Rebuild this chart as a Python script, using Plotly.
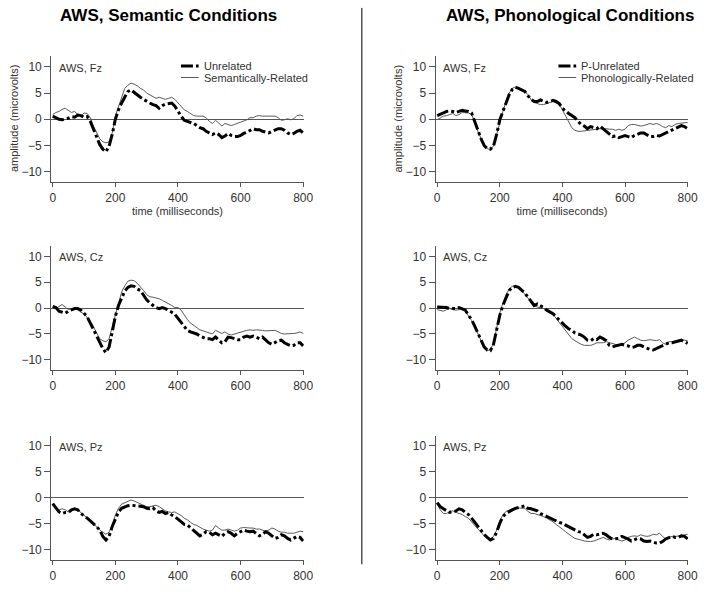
import plotly.graph_objects as go

time_ms = list(range(0, 801, 10))

fz_sem_unrel = [0.6, 0.3, 0, -0.1, 0, 0.2, 0.5, 0.4, 0.8, 0.7,
                0.4, 0.5, -0.4, -2, -3.5, -4.8, -5.7, -6.2, -5.1, -2.9,
                0, 1.8, 3.1, 4.3, 5.3, 5.6, 5.1, 4.7, 4.2, 3.8,
                3.4, 3.1, 2.8, 2.6, 2.1, 2.6, 2.9, 3.0, 3.1, 2.5,
                1.5, 0.6, -0.2, -0.4, -0.6, -0.8, -1.2, -1.6, -1.8, -2.3,
                -2.6, -2.9, -2.6, -2.9, -3.5, -3.2, -2.7, -3.1, -3.3, -3.3,
                -3.1, -2.7, -2.5, -2.1, -1.8, -2.0, -2.0, -2.3, -2.5, -2.6,
                -2.3, -2.0, -1.8, -1.8, -2.1, -2.6, -2.9, -2.7, -2.3, -2.1,
                -2.6]
fz_sem_rel = [0.9, 1.3, 1.5, 1.9, 2.1, 1.7, 1.3, 1.5, 0.9, 0.6,
              1.2, 1.1, 0.3, -1.3, -2.6, -3.7, -4.3, -4.5, -4.3, -2.6,
              0.6, 2.5, 4.3, 5.9, 6.5, 6.9, 6.7, 6.4, 5.9, 5.6,
              5.0, 4.7, 4.3, 4.0, 4.2, 4.0, 3.8, 4.0, 4.2, 3.8,
              3.1, 2.5, 1.8, 1.5, 1.1, 0.7, 0.6, 0.6, 0.6, 0.3,
              -0.4, -0.8, -0.2, -0.7, -1.3, -0.8, -1.0, -1.2, -1.0, -0.8,
              -0.6, -0.4, -0.1, 0.3, 0.3, 0.6, 0.7, 0.6, 0.6, 0.7,
              0.7, 0.6, 0.3, -0.2, -0.1, 0.1, -0.1, 0.1, 0.7, 0.8,
              0.6]
fz_pho_unrel = [0.7, 0.9, 1.2, 1.5, 1.6, 1.5, 1.3, 1.5, 1.7, 1.6,
                1.5, 1.2, -0.4, -2.3, -3.7, -5.0, -5.6, -5.7, -5.1, -2.9,
                -0.1, 1.5, 3.1, 4.7, 5.7, 6.1, 5.9, 5.6, 5.3, 4.5,
                3.8, 3.4, 3.4, 3.7, 3.4, 3.2, 3.4, 3.6, 3.4, 3.0,
                2.1, 1.5, 1.1, 0.7, 0.3, -0.4, -1.0, -1.3, -1.8, -1.4,
                -1.6, -1.8, -1.3, -1.8, -2.3, -2.7, -3.3, -3.2, -3.5, -3.3,
                -3.1, -3.3, -3.5, -3.1, -2.9, -2.6, -2.6, -2.9, -3.3, -3.3,
                -3.1, -3.2, -2.9, -2.6, -2.3, -2.1, -1.8, -1.4, -1.2, -1.4,
                -1.8]
fz_pho_rel = [-0.1, 0.3, 0.6, 0.7, 0.9, 1.1, 0.7, 0.9, 1.3, 1.3,
              1.2, 0.9, -0.4, -2.3, -3.8, -5.0, -5.6, -5.8, -5.1, -2.9,
              -0.4, 1.5, 3.4, 5.0, 5.9, 6.2, 6.1, 5.7, 5.3, 4.7,
              3.7, 3.2, 3.0, 2.8, 2.8, 3.0, 3.2, 3.4, 3.1, 2.8,
              1.8, 0.6, -0.7, -1.6, -2.1, -2.3, -2.3, -2.2, -2.2, -2.1,
              -1.9, -1.8, -1.8, -1.9, -1.8, -1.9, -1.9, -2.1, -1.9, -2.1,
              -1.9, -1.2, -1.0, -1.0, -1.2, -1.3, -1.2, -1.0, -0.8, -1.0,
              -0.8, -1.0, -1.4, -1.6, -1.2, -1.4, -1.0, -0.8, -0.7, -0.6,
              -0.6]
cz_sem_unrel = [0.3, 0.1, -0.6, -0.8, -1.0, -0.6, -0.4, -0.1, -0.1, -0.4,
                -1.0, -1.7, -2.9, -4.2, -5.4, -6.7, -7.8, -8.6, -7.5, -4.6,
                -1.6, 0.5, 2.1, 3.3, 4.0, 4.3, 4.2, 3.7, 3.4, 2.4,
                1.6, 1.0, 0.5, 0.1, -0.1, 0.1, -0.1, -0.4, -0.8, -1.2,
                -2.0, -2.9, -3.6, -4.3, -4.6, -4.8, -5.0, -5.4, -5.7, -5.9,
                -5.9, -6.1, -5.6, -6.2, -6.7, -6.5, -5.6, -5.7, -5.9, -6.1,
                -6.1, -5.6, -5.4, -5.6, -5.4, -5.7, -5.9, -5.6, -6.1, -6.7,
                -7.0, -6.7, -6.3, -6.2, -6.7, -7.0, -7.3, -7.2, -6.7, -6.7,
                -7.3]
cz_sem_rel = [0.2, -0.1, 0.3, 0.7, 0.2, -0.3, -0.1, -0.1, -0.3, -0.8,
              -1.1, -1.7, -2.5, -3.6, -4.9, -5.9, -6.3, -6.5, -5.9, -3.6,
              -1.0, 1.3, 3.1, 4.3, 5.2, 5.4, 5.3, 4.8, 4.2, 3.4,
              2.6, 2.2, 2.1, 2.0, 1.8, 1.5, 1.2, 0.8, 0.5, 0.1,
              0.1, -0.4, -1.4, -2.2, -2.9, -3.3, -3.8, -4.2, -4.4, -4.6,
              -4.9, -5.0, -4.3, -4.6, -4.9, -4.6, -5.0, -5.2, -5.0, -4.8,
              -4.6, -4.4, -4.3, -4.2, -4.3, -4.2, -4.2, -4.3, -4.4, -4.4,
              -4.3, -4.3, -4.6, -4.9, -5.0, -5.0, -5.0, -4.9, -4.8, -4.6,
              -4.9]
cz_pho_unrel = [0.2, 0.2, 0.2, 0.1, -0.1, -0.1, -0.1, 0.1, -0.1, -0.4,
                -1.4, -2.2, -3.5, -4.9, -6.3, -7.5, -8.1, -8.2, -7.0, -4.3,
                -1.4, 0.5, 2.1, 3.4, 4.0, 4.2, 4.0, 3.5, 2.9, 2.1,
                1.3, 0.5, 0.8, 0.5, 0.1, -0.4, -0.8, -1.1, -1.7, -2.4,
                -2.9, -3.5, -4.0, -4.3, -4.8, -5.0, -5.2, -5.6, -6.2, -6.3,
                -5.9, -6.1, -5.6, -5.9, -6.3, -7.2, -7.5, -7.3, -7.2, -7.0,
                -7.2, -7.3, -7.6, -7.5, -7.2, -7.2, -7.5, -7.8, -8.0, -8.1,
                -7.8, -7.6, -7.3, -7.0, -6.7, -6.7, -6.5, -6.3, -6.2, -6.5,
                -6.8]
cz_pho_rel = [-0.3, -0.4, -0.6, -0.3, -0.1, -0.3, -0.4, -0.3, 0.1, -0.6,
              -1.4, -2.4, -3.6, -5.0, -6.5, -7.6, -8.2, -8.1, -6.7, -3.6,
              -1.0, 1.0, 2.6, 3.7, 4.2, 4.2, 3.9, 3.4, 2.7, 2.0,
              1.2, 0.5, 0.2, 0.1, -0.1, -0.4, -1.0, -1.2, -2.0, -2.9,
              -3.6, -4.4, -5.2, -5.9, -6.3, -6.7, -7.0, -7.2, -7.2, -7.2,
              -7.0, -6.7, -6.7, -6.7, -6.5, -6.7, -6.8, -7.0, -7.2, -7.0,
              -6.7, -6.2, -5.9, -5.6, -5.9, -6.2, -6.3, -6.2, -6.1, -6.2,
              -6.3, -6.1, -6.7, -7.0, -6.5, -6.5, -6.5, -6.3, -6.2, -6.2,
              -6.3]
pz_sem_unrel = [-1.1, -2.0, -2.7, -3.0, -2.8, -2.8, -2.3, -2.1, -2.3, -3.0,
                -3.4, -3.9, -4.4, -4.9, -5.5, -6.2, -7.4, -8.1, -7.4, -5.5,
                -3.9, -2.7, -2.0, -1.7, -1.5, -1.4, -1.5, -1.5, -1.7, -1.7,
                -2.0, -2.1, -1.9, -2.5, -2.8, -2.6, -3.0, -2.8, -3.3, -3.6,
                -4.1, -4.7, -5.1, -5.2, -5.7, -6.2, -6.8, -7.3, -7.0, -6.5,
                -6.6, -7.1, -6.8, -7.1, -7.4, -6.8, -6.5, -6.8, -7.3, -6.8,
                -6.5, -6.2, -6.4, -6.5, -6.4, -6.8, -7.3, -7.0, -6.5, -6.8,
                -7.4, -7.8, -7.6, -7.1, -7.3, -7.8, -8.1, -7.8, -7.4, -7.6,
                -8.3]
pz_sem_rel = [-1.2, -1.9, -2.3, -2.1, -2.3, -2.7, -2.3, -2.1, -2.3, -2.8,
              -3.3, -3.8, -4.4, -5.1, -5.5, -6.2, -6.6, -7.0, -6.6, -5.2,
              -3.3, -2.0, -1.2, -0.9, -0.6, -0.4, -0.6, -0.9, -1.2, -1.5,
              -1.7, -1.7, -1.5, -1.4, -1.7, -2.1, -2.5, -2.7, -2.8, -2.7,
              -3.0, -3.4, -3.9, -4.2, -4.7, -5.1, -5.3, -5.7, -6.0, -6.2,
              -6.4, -6.2, -5.3, -5.8, -6.2, -6.2, -6.0, -6.2, -6.4, -6.2,
              -5.8, -5.7, -5.8, -5.8, -5.8, -6.0, -6.0, -6.2, -6.4, -6.2,
              -5.8, -6.0, -6.4, -6.6, -6.6, -6.8, -6.8, -6.8, -6.6, -6.4,
              -6.5]
pz_pho_unrel = [-0.9, -1.7, -2.1, -2.5, -2.8, -2.6, -2.5, -2.1, -2.3, -2.8,
                -3.2, -3.9, -4.7, -5.5, -6.4, -7.0, -7.6, -8.1, -7.8, -6.6,
                -4.9, -3.6, -3.0, -2.6, -2.3, -2.0, -1.9, -1.7, -1.5, -2.0,
                -2.1, -2.3, -2.5, -3.0, -3.3, -3.6, -3.8, -4.1, -4.4, -4.7,
                -4.9, -5.2, -5.5, -5.8, -6.2, -6.5, -6.6, -7.1, -7.6, -7.4,
                -7.0, -7.1, -7.0, -6.8, -7.1, -7.6, -7.9, -7.9, -7.8, -7.4,
                -7.6, -7.9, -8.3, -8.1, -7.8, -7.9, -8.3, -8.4, -8.3, -8.5,
                -8.7, -8.7, -8.4, -7.9, -7.6, -7.4, -7.6, -7.6, -7.3, -7.4,
                -7.9]
pz_pho_rel = [-1.2, -2.3, -3.0, -3.0, -2.6, -2.5, -2.8, -3.0, -3.2, -3.6,
              -3.9, -4.6, -5.2, -6.0, -6.6, -7.3, -7.6, -7.9, -7.4, -6.2,
              -4.4, -3.3, -2.6, -2.3, -2.1, -1.9, -1.9, -1.9, -2.0, -2.6,
              -3.0, -3.0, -3.2, -3.3, -3.6, -3.9, -4.2, -4.6, -5.1, -5.5,
              -6.0, -6.5, -7.0, -7.4, -7.8, -7.9, -8.1, -8.3, -8.4, -8.4,
              -8.3, -8.1, -7.9, -7.6, -7.9, -8.1, -7.9, -7.8, -8.1, -8.3,
              -8.1, -7.6, -7.4, -7.3, -7.4, -7.1, -7.3, -7.4, -7.3, -7.0,
              -7.1, -6.8, -7.4, -7.9, -7.6, -7.4, -7.4, -7.4, -7.3, -7.1,
              -7.0]

panel_labels = ["AWS, Fz", "AWS, Cz", "AWS, Pz"]
column_titles = ["AWS, Semantic Conditions", "AWS, Phonological Conditions"]
sem_names = ["Unrelated", "Semantically-Related"]
pho_names = ["P-Unrelated", "Phonologically-Related"]
x_ticks = [0, 200, 400, 600, 800]
y_ticks = [-10, -5, 0, 5, 10]

W, H = 714, 592
FONT = "Liberation Sans, Arial, sans-serif"
TXT = "#333333"
AX = "#555555"
THIN = "#5a5a5a"
DASH = "12px,3px,3px,3px"

def px_x(p):
    return p / W

def px_y(p):
    return 1 - p / H

col_dom = [[px_x(50), px_x(307)], [px_x(441), px_x(698)]]
row_dom = [[px_y(184), px_y(57)], [px_y(374), px_y(248.5)], [px_y(566), px_y(440)]]

panels = [
    (0, 0, fz_sem_unrel, fz_sem_rel, sem_names),
    (0, 1, fz_pho_unrel, fz_pho_rel, pho_names),
    (1, 0, cz_sem_unrel, cz_sem_rel, sem_names),
    (1, 1, cz_pho_unrel, cz_pho_rel, pho_names),
    (2, 0, pz_sem_unrel, pz_sem_rel, sem_names),
    (2, 1, pz_pho_unrel, pz_pho_rel, pho_names),
]

fig = go.Figure()
layout = {}
annotations = []
shapes = []
for i, (r, c, unrel, rel, names) in enumerate(panels):
    n = i + 1
    xa = "x" if n == 1 else f"x{n}"
    ya = "y" if n == 1 else f"y{n}"
    first_row = (r == 0)
    fig.add_trace(go.Scatter(
        x=time_ms, y=rel, xaxis=xa, yaxis=ya, mode="lines",
        name=names[1], line=dict(color=THIN, width=1), showlegend=False))
    fig.add_trace(go.Scatter(
        x=time_ms, y=unrel, xaxis=xa, yaxis=ya, mode="lines",
        name=names[0], line=dict(color="#000000", width=3, dash=DASH),
        showlegend=False))
    xkey = "xaxis" if n == 1 else f"xaxis{n}"
    ykey = "yaxis" if n == 1 else f"yaxis{n}"
    layout[xkey] = dict(
        domain=col_dom[c], anchor=ya, range=[-5, 802], tickvals=x_ticks,
        showline=True, linecolor=AX, linewidth=1, ticks="outside", ticklen=4,
        tickcolor=AX, showgrid=False, zeroline=False,
        tickfont=dict(size=12, color=TXT, family=FONT),
        title=dict(text="time (milliseconds)" if first_row else "",
                   font=dict(size=11, color=TXT, family=FONT), standoff=2))
    layout[ykey] = dict(
        domain=row_dom[r], anchor=xa, range=[-12, 12], tickvals=y_ticks,
        showline=True, linecolor=AX, linewidth=1, ticks="outside", ticklen=6,
        tickcolor=AX, showgrid=False, zeroline=True, zerolinecolor=AX,
        zerolinewidth=1, tickfont=dict(size=12, color=TXT, family=FONT))
    annotations.append(dict(
        text=panel_labels[r], xref=f"{xa} domain", yref=f"{ya} domain",
        x=0.022, y=0.91, xanchor="left", yanchor="middle", showarrow=False,
        font=dict(size=11, color=TXT, family=FONT)))
    if first_row:
        # y-axis title
        annotations.append(dict(
            text="amplitude (microvolts)", xref="paper", yref="paper",
            x=px_x(12 if c == 0 else 403), y=px_y(119.5), textangle=-90,
            xanchor="center", yanchor="middle", showarrow=False,
            font=dict(size=11, color=TXT, family=FONT)))
        # legend keys
        lx0 = 182 if c == 0 else 566
        for k, (nm, yy) in enumerate(zip(names, [66.7, 78.3])):
            if k == 0:
                line = dict(color="#000000", width=3, dash=DASH)
            else:
                line = dict(color=THIN, width=1)
            shapes.append(dict(type="line", xref="paper", yref="paper",
                               x0=px_x(lx0), x1=px_x(lx0 + 18),
                               y0=px_y(yy), y1=px_y(yy), line=line))
            annotations.append(dict(
                text=nm, xref="paper", yref="paper", x=px_x(lx0 + 21), y=px_y(yy),
                xanchor="left", yanchor="middle", showarrow=False,
                font=dict(size=11, color=TXT, family=FONT)))

for c, title in enumerate(column_titles):
    annotations.append(dict(
        text=f"<b>{title}</b>", xref="paper", yref="paper",
        x=px_x(169 if c == 0 else 578), y=px_y(16), xanchor="center", yanchor="middle",
        showarrow=False, font=dict(size=17, color="#000000", family=FONT)))

shapes.append(dict(type="line", xref="paper", yref="paper",
                   x0=px_x(366), x1=px_x(366), y0=px_y(8), y1=px_y(570),
                   line=dict(color="#000000", width=1)))

fig.update_layout(
    width=W, height=H, margin=dict(l=0, r=0, t=0, b=0),
    paper_bgcolor="white", plot_bgcolor="white",
    showlegend=False, hovermode=False,
    annotations=annotations,
    shapes=shapes,
    **layout)

fig.write_html("out.html", config={"displayModeBar": False, "staticPlot": True},
               post_script="document.body.style.margin='0';")
